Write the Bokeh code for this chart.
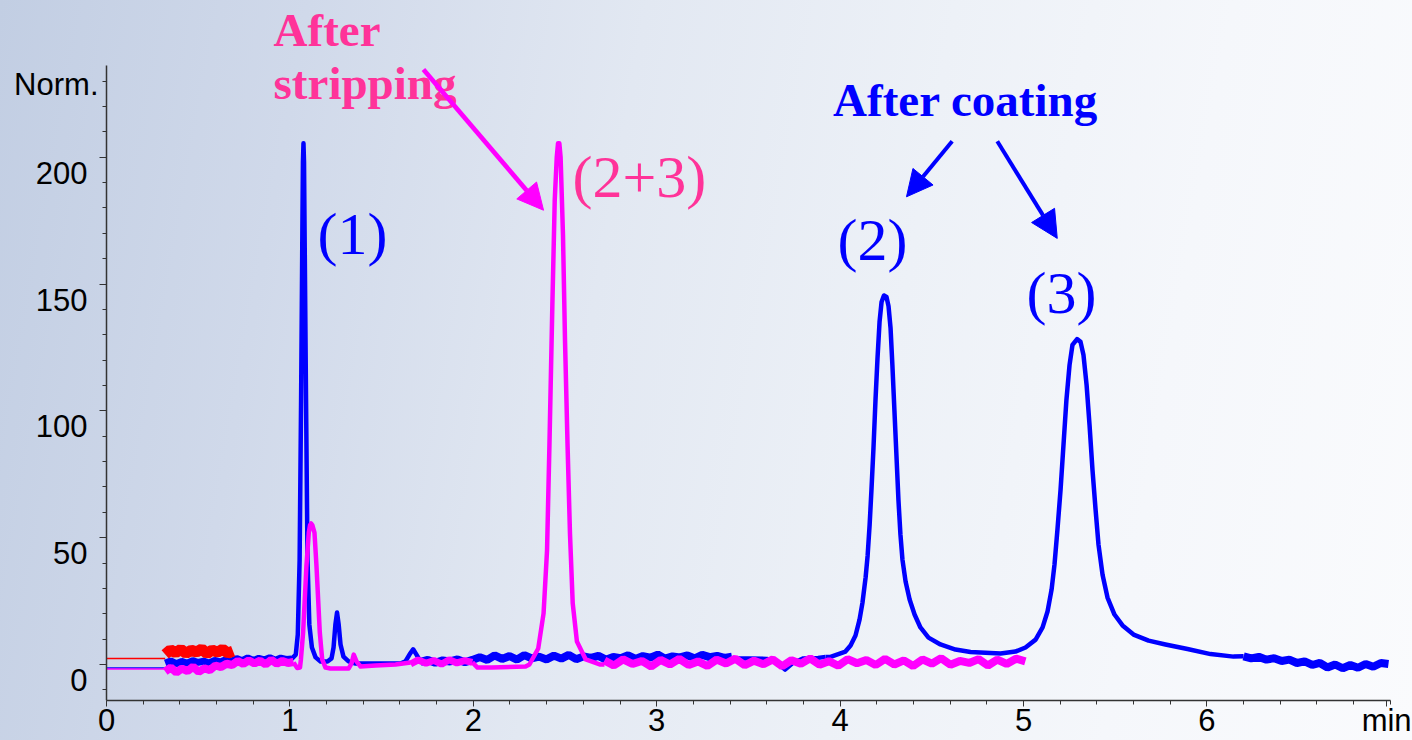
import numpy as np
from bokeh.plotting import figure
from bokeh.models import Label, Arrow, NormalHead, FixedTicker, Range1d
from bokeh.embed import file_html
from bokeh.resources import INLINE

# ---------------- data ----------------
x_ticks = [0, 1, 2, 3, 4, 5, 6, 6.98]
x_tick_labels = ["0", "1", "2", "3", "4", "5", "6", "min"]
x_minor = [0.2 * i for i in range(36)]
y_ticks = [0, 50, 100, 150, 200]
y_tick_labels = ["0", "50", "100", "150", "200"]
y_minor = [10 * i for i in range(-1, 24)]

# red trace : thin lead-in and noisy stretch
red_thin_t = [0.0, 0.32]
red_thin_s = [2.4, 2.4]
red_noise_span = [0.32, 0.69]
red_noise_s = [4.0, 5.8, 4.6, 6.0, 4.4, 5.6, 4.9, 6.1, 4.3, 5.7, 4.8, 6.0, 4.5, 5.3]

# blue trace (after coating)
blue_thin_t = [0.0, 0.32]
blue_thin_s = [-1.4, -1.4]
blue_noise1_span = [0.32, 1.01]
blue_noise1_s = [0.6, 1.4, 0.3, 1.2, 0.5, 1.5, 0.8, 1.3, 0.6, 1.6, 1.0, 1.9,
                 1.2, 2.3, 1.5, 2.6, 1.6, 2.4, 1.8, 2.7, 1.7, 2.5, 2.0, 2.2]
blue_peak1_t = [1.010, 1.032, 1.043, 1.053, 1.061, 1.068, 1.071, 1.074, 1.077, 1.080,
                1.088, 1.096, 1.106, 1.120, 1.140, 1.167, 1.205, 1.227, 1.238, 1.248,
                1.257, 1.266, 1.276, 1.292, 1.320, 1.358, 1.603, 1.630, 1.652, 1.672,
                1.690, 1.712]
blue_peak1_s = [2.2, 3.9, 11.8, 41.3, 104.3, 171.3, 198.0, 205.5, 198.0, 171.3,
                104.3, 41.3, 15.7, 6.7, 2.8, 1.2, 1.2, 2.4, 6.7, 15.7,
                20.5, 15.7, 7.9, 3.1, 1.2, 0.4, 0.4, 1.2, 3.9, 6.0,
                3.9, 1.2]
blue_noise2_span = [1.712, 3.41]
blue_noise2_s = [1.0, 1.8, 0.7, 1.6, 1.2, 2.0, 0.9, 1.8,
                 2.9, 1.8, 3.6, 2.2, 3.3, 1.9, 3.7, 2.4, 3.1, 2.0, 3.5, 2.3,
                 3.8, 2.1, 3.2, 2.6, 3.4, 1.9, 3.0, 2.5, 3.6, 2.2, 3.3, 2.7,
                 3.9, 2.3, 3.2, 2.8, 3.6, 2.4, 3.8, 2.9, 3.4, 2.6, 3.1]
blue_mid_t = [3.41, 3.50, 3.60, 3.66, 3.70, 3.74, 3.80, 3.88, 3.92]
blue_mid_s = [2.4, 2.4, 2.2, 0.5, -2.0, 0.5, 2.4, 2.6, 3.0]
# peaks (2) and (3)
blue_peaks_t = [3.920, 3.948, 4.029, 4.057, 4.084, 4.106, 4.122, 4.139, 4.150, 4.161,
                4.171, 4.182, 4.193, 4.204, 4.215, 4.226, 4.239, 4.253, 4.264, 4.275,
                4.285, 4.296, 4.307, 4.318, 4.329, 4.340, 4.357, 4.379, 4.406, 4.438,
                4.482, 4.547, 4.629, 4.711, 4.875, 4.956, 5.011, 5.066, 5.104, 5.131,
                5.153, 5.169, 5.185, 5.202, 5.218, 5.234, 5.251, 5.267, 5.292, 5.311,
                5.327, 5.344, 5.360, 5.376, 5.393, 5.409, 5.431, 5.458, 5.496, 5.540,
                5.600, 5.682, 5.774, 5.894, 6.020, 6.145, 6.200]
blue_peaks_s = [3.0, 3.0, 5.1, 7.5, 11.4, 17.7, 24.4, 34.3, 42.9, 55.1,
                68.9, 85.4, 104.3, 120.9, 135.0, 142.9, 145.5, 144.9, 141.3, 132.7,
                118.1, 100.4, 82.7, 65.0, 51.2, 41.3, 32.7, 25.6, 19.7, 14.6,
                10.6, 7.9, 5.9, 4.9, 4.3, 5.1, 6.7, 9.8, 14.6, 20.9,
                29.5, 39.4, 53.1, 68.9, 86.6, 104.3, 118.1, 126.0, 128.3, 127.2,
                122.0, 110.2, 94.5, 76.8, 61.0, 47.2, 35.4, 26.4, 19.7, 15.4,
                11.8, 9.4, 7.9, 6.1, 4.1, 3.1, 3.2]
blue_tail_span = [6.20, 6.99]
blue_tail_s = [3.2, 2.4, 3.0, 1.9, 2.5, 1.4, 1.9, 0.6, 1.2, -0.2,
               0.6, -1.2, 0.0, -1.5, -0.2, -1.3, 0.2, -0.9, 0.6, 0.2]

# magenta trace (after stripping)
mag_thin_t = [0.0, 0.32]
mag_thin_s = [-1.8, -1.8]
mag_noise1_span = [0.32, 1.02]
mag_noise1_s = [-2.8, -1.2, -3.2, -1.6, -2.6, -0.9, -2.9, -1.5, -2.2, -0.4, -1.0, 0.3,
                -0.2, 1.4, 0.2, 1.6, 0.4, 1.5, 0.0, 1.8, 0.3, 1.4, 0.6, 1.0]
mag_peak1_t = [1.020, 1.040, 1.055, 1.060, 1.072, 1.090, 1.103, 1.110, 1.116, 1.122,
               1.134, 1.145, 1.163, 1.176, 1.194, 1.221, 1.320, 1.336, 1.348, 1.363,
               1.385, 1.467, 1.576, 1.658]
mag_peak1_s = [0.8, -1.4, -1.2, 2.0, 12.6, 38.7, 52.0, 55.0, 55.6, 55.0,
               52.0, 38.7, 12.6, 2.0, -1.2, -1.6, -1.6, 0.4, 3.9, 1.2,
               -0.8, -0.4, 0.0, 0.8]
mag_noise2_span = [1.658, 1.995]
mag_noise2_s = [0.2, 1.8, 0.5, 1.6, 0.1, 1.9, 0.6, 1.5, 0.8]
mag_peak2_t = [1.995, 2.023, 2.100, 2.285, 2.306, 2.354, 2.383, 2.402, 2.415, 2.431,
               2.444, 2.455, 2.462, 2.469, 2.476, 2.489, 2.500, 2.514, 2.527, 2.542,
               2.565, 2.613, 2.689, 2.715]
mag_peak2_s = [0.8, -1.2, -1.2, -0.8, 0.0, 6.3, 20.1, 44.9, 86.2, 141.6,
               183.1, 200.0, 205.5, 205.5, 200.0, 169.3, 127.8, 86.2, 51.8, 24.1,
               9.1, 2.0, 0.0, 0.0]
mag_noise3_span = [2.715, 5.01]
mag_noise3_s = [1.6, -0.4, 2.0, 0.2, 1.4, -0.8, 1.8, 0.0, 2.2, -0.2,
                1.2, -0.6, 1.9, 0.4, 2.3, -0.3, 1.5, 0.1, 2.0, -0.7,
                1.7, 0.3, 2.4, -0.1, 1.3, -0.5, 2.1, 0.5, 1.8, -0.2,
                2.2, 0.0, 1.6, -0.6, 2.0, 0.3, 2.5, -0.1, 1.4, 0.6,
                2.1, -0.4, 1.9, 0.2, 2.3, 1.2]

BLUE = "#0000ff"
MAGENTA = "#ff00ff"
RED = "#ff0000"
PINK = "#ff3399"

Y_LO, Y_HI = -14.2, 236.2      # extent of the drawn y axis
X_LO, X_HI = 0.0, 7.0          # extent of the drawn x axis
p = figure(width=1412, height=740, output_backend="svg", toolbar_location=None,
           x_range=Range1d(-0.578, 7.121), y_range=Range1d(Y_LO, 261.8),
           min_border_left=0, min_border_right=0, min_border_top=0,
           min_border_bottom=39)
p.background_fill_color = None
p.border_fill_color = None
p.outline_line_color = None
p.grid.visible = False
p.styles = {"background": "linear-gradient(100deg, #c2cee3 0%, #d0d9ea 20%, #e2e8f2 42%, "
                          "#edf1f7 62%, #f5f7fb 80%, #fafbfd 100%)"}

for ax in (p.xaxis[0], p.yaxis[0]):
    ax.axis_line_color = "#333333"
    ax.axis_line_width = 1.5
    ax.major_tick_line_color = "#333333"
    ax.minor_tick_line_color = "#333333"
    ax.major_tick_in = 0
    ax.major_tick_out = 7
    ax.minor_tick_in = 0
    ax.minor_tick_out = 4
    ax.major_label_text_font = "Liberation Sans"
    ax.major_label_text_font_size = "31px"
    ax.major_label_text_color = "black"

xa = p.xaxis[0]
xa.ticker = FixedTicker(ticks=x_ticks, minor_ticks=x_minor)
xa.major_label_overrides = {t: lab for t, lab in zip(x_ticks, x_tick_labels)}
xa.major_label_standoff = -4
xa.major_tick_out = 6
xa.bounds = (X_LO, X_HI)

ya = p.yaxis[0]
ya.fixed_location = 0
ya.ticker = FixedTicker(ticks=y_ticks, minor_ticks=y_minor)
ya.bounds = (Y_LO, Y_HI)
# labels of this chart sit a little below their tick marks
ya.major_label_overrides = {t: "\n" + lab for t, lab in zip(y_ticks, y_tick_labels)}
ya.major_label_text_line_height = 0.92
ya.major_label_standoff = 12


def span_t(span, vals):
    return np.linspace(span[0], span[1], len(vals))

# blue
p.line(blue_thin_t, blue_thin_s, line_color=BLUE, line_width=1.5)
p.line(span_t(blue_noise1_span, blue_noise1_s), blue_noise1_s, line_color=BLUE, line_width=7)
p.line(blue_peak1_t, blue_peak1_s, line_color=BLUE, line_width=4.5, line_join="round")
p.line(span_t(blue_noise2_span, blue_noise2_s), blue_noise2_s, line_color=BLUE, line_width=8)
p.line(blue_mid_t, blue_mid_s, line_color=BLUE, line_width=4.5, line_join="round")
p.line(blue_peaks_t, blue_peaks_s, line_color=BLUE, line_width=4.5, line_join="round")
p.line(span_t(blue_tail_span, blue_tail_s), blue_tail_s, line_color=BLUE, line_width=8)
# magenta
p.line(mag_thin_t, mag_thin_s, line_color=MAGENTA, line_width=1.5)
p.line(span_t(mag_noise1_span, mag_noise1_s), mag_noise1_s, line_color=MAGENTA, line_width=8)
p.line(mag_peak1_t, mag_peak1_s, line_color=MAGENTA, line_width=4.5, line_join="round")
p.line(span_t(mag_noise2_span, mag_noise2_s), mag_noise2_s, line_color=MAGENTA, line_width=7)
p.line(mag_peak2_t, mag_peak2_s, line_color=MAGENTA, line_width=4.5, line_join="round")
p.line(span_t(mag_noise3_span, mag_noise3_s), mag_noise3_s, line_color=MAGENTA, line_width=8)
# red
p.line(red_thin_t, red_thin_s, line_color=RED, line_width=1.5)
p.line(span_t(red_noise_span, red_noise_s), red_noise_s, line_color=RED, line_width=11)

# unit label at the top of the y axis
p.add_layout(Label(x=0, y=228.5, x_offset=-8, text="Norm.", text_align="right",
                   text_baseline="alphabetic", text_font="Liberation Sans",
                   text_font_size="31px", text_color="black"))

# annotations (y values include a small correction for Bokeh's text anchoring)
serif = "Liberation Serif"
big = dict(text_baseline="alphabetic", text_font=serif, text_font_size="60px")
bold = dict(text_baseline="alphabetic", text_font=serif, text_font_style="bold",
            text_font_size="47px")
p.add_layout(Label(x=0.911, y=250.2, text="After", text_align="left", text_color=PINK, **bold))
p.add_layout(Label(x=0.911, y=229.2, text="stripping", text_align="left", text_color=PINK, **bold))
p.add_layout(Label(x=4.684, y=222.7, text="After coating", text_align="center",
                   text_color=BLUE, **bold))
p.add_layout(Label(x=2.541, y=192.1, text="(2+3)", text_align="left", text_color=PINK, **big))
p.add_layout(Label(x=1.150, y=169.6, text="(1)", text_align="left", text_color=BLUE, **big))
p.add_layout(Label(x=3.986, y=167.3, text="(2)", text_align="left", text_color=BLUE, **big))
p.add_layout(Label(x=5.016, y=146.4, text="(3)", text_align="left", text_color=BLUE, **big))

p.add_layout(Arrow(end=NormalHead(size=26, fill_color=MAGENTA, line_color=MAGENTA),
                   x_start=1.728, y_start=234.6, x_end=2.383, y_end=179.1,
                   line_color=MAGENTA, line_width=4.7))
p.add_layout(Arrow(end=NormalHead(size=26, fill_color=BLUE, line_color=BLUE),
                   x_start=4.611, y_start=206.3, x_end=4.362, y_end=184.4,
                   line_color=BLUE, line_width=4))
p.add_layout(Arrow(end=NormalHead(size=27, fill_color=BLUE, line_color=BLUE),
                   x_start=4.857, y_start=206.3, x_end=5.184, y_end=168.0,
                   line_color=BLUE, line_width=4))

open("out.html", "w").write(file_html(p, INLINE))
